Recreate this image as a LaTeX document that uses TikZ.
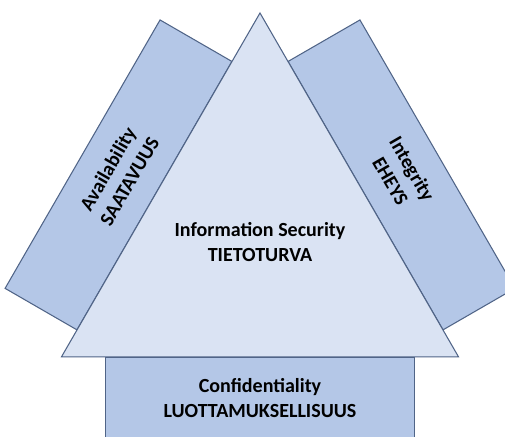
\documentclass[tikz,border=0pt]{standalone}
\usepackage{fontspec}
\setmainfont{Carlito}
\definecolor{bandfill}{HTML}{B4C7E7}
\definecolor{trifill}{HTML}{DAE3F3}
\definecolor{edgeblue}{RGB}{80,100,135}

\begin{document}
\begin{tikzpicture}[x=0.02cm,y=0.02cm,
    every node/.style={font=\fontsize{11.4}{14.2}\selectfont\bfseries,align=center,text=black},
    band/.style={rectangle,draw=edgeblue,fill=bandfill,line width=0.6pt,
      minimum width=6.2cm,minimum height=1.66cm,inner sep=0pt},
    tri/.style={draw=edgeblue,fill=trifill,line width=0.6pt,line join=miter}]

  \useasboundingbox (-260,-194.7) rectangle (245,242.3);
  \clip (-260,-194.7) rectangle (245,242.3);

  % the three bands behind the triangle
  \node[band] (conf) at (0,-156.2) {Confidentiality\\LUOTTAMUKSELLISUUS};
  \node[band,rotate=60] (avail) at (-141.5,67.4) {Availability\\SAATAVUUS};
  \node[band,rotate=-60] (integ) at (141.5,67.4) {Integrity\\EHEYS};

  % triangle corners
  \coordinate (top) at (90:229.3);
  \coordinate (bl) at (210:229.3);
  \coordinate (br) at (330:229.3);
  \draw[tri] (top) -- (bl) -- (br) -- cycle;
  \node (infosec) at (0,0) {Information Security\\TIETOTURVA};
\end{tikzpicture}
\end{document}
